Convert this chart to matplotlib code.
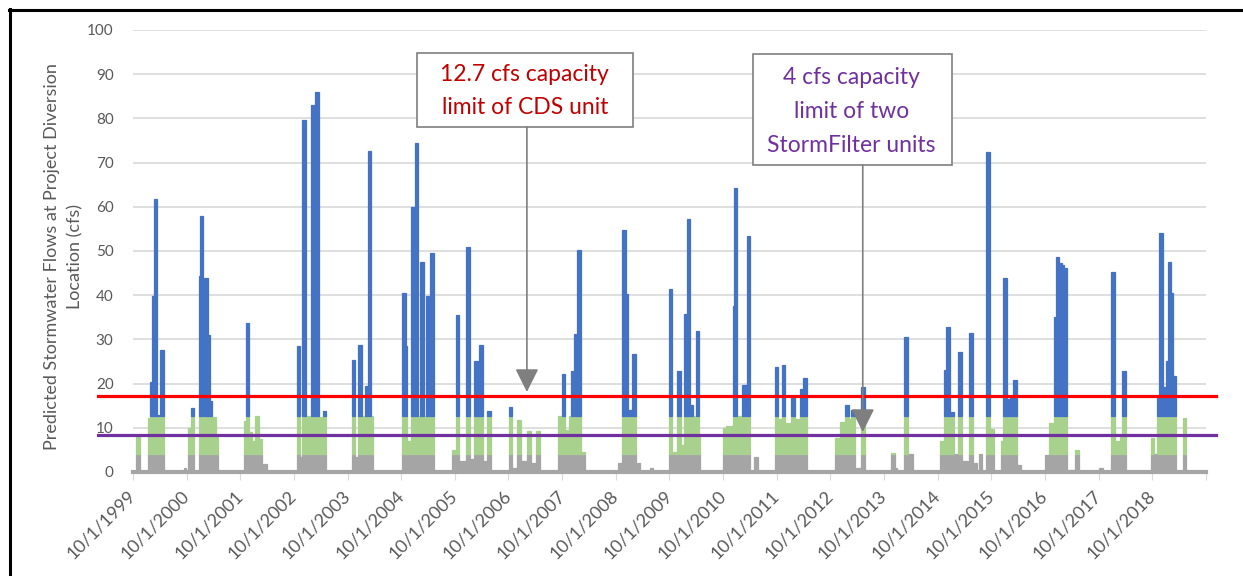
import numpy as np
import pandas as pd
import matplotlib
matplotlib.use("Agg")
import matplotlib.pyplot as plt
from matplotlib.lines import Line2D
from matplotlib.patches import Rectangle

plt.rcParams['font.family'] = ['Lato', 'DejaVu Sans']

# flow events: water year (starts 10/1), start day in that year, length in days, flow (cfs)
wy_1999 = [(23, 23, 8.4), (100, 18, 12.1), (118, 14, 20.4), (132, 9, 39.7), (141, 23, 61.8), (163, 14, 13.0),
           (182, 27, 27.6), (345, 14, 0.8)]
wy_2000 = [(11, 18, 9.9), (29, 18, 14.4), (84, 9, 44.3), (93, 18, 58.0), (120, 23, 43.8), (143, 18, 31.0),
           (161, 14, 16.0), (175, 27, 12.4), (202, 9, 8.0)]
wy_2001 = [(27, 14, 11.5), (41, 18, 33.8), (59, 23, 9.0), (82, 18, 6.9), (100, 27, 12.6), (127, 18, 7.4),
           (145, 36, 1.7)]
wy_2002 = [(24, 20, 28.5), (44, 14, 3.5), (58, 24, 79.6), (82, 34, 12.6), (119, 24, 83.0), (146, 24, 86.0),
           (170, 25, 12.5), (195, 22, 13.8)]
wy_2003 = [(27, 27, 25.3), (54, 18, 3.3), (73, 27, 28.7), (100, 18, 12.6), (118, 18, 19.5), (136, 27, 72.6),
           (163, 9, 12.6)]
wy_2004 = [(7, 25, 40.6), (32, 9, 28.4), (41, 27, 7.0), (68, 23, 60.0), (91, 23, 74.4), (113, 14, 12.6),
           (127, 27, 47.4), (154, 14, 12.6), (168, 23, 39.8), (195, 27, 49.5), (345, 20, 5.0)]
wy_2005 = [(7, 23, 35.4), (30, 45, 2.5), (75, 27, 51.0), (102, 30, 3.0), (132, 32, 25.2), (163, 27, 28.7),
           (190, 32, 2.5), (222, 23, 13.7)]
wy_2006 = [(2, 23, 14.8), (25, 30, 0.8), (59, 23, 11.8), (82, 45, 2.5), (127, 27, 9.35), (154, 30, 2.0),
           (188, 25, 9.3), (339, 25, 12.6), (363, 25, 22.2)]
wy_2007 = [(23, 27, 9.5), (50, 14, 12.6), (64, 18, 22.9), (82, 18, 31.2), (100, 27, 50.2), (127, 30, 4.5)]
wy_2008 = [(16, 25, 2.0), (41, 27, 54.75), (68, 18, 40.3), (86, 27, 14.0), (113, 27, 26.8), (141, 23, 2.0),
           (231, 23, 1.0)]
wy_2009 = [(0, 20, 41.3), (25, 27, 4.5), (52, 27, 22.9), (79, 18, 6.0), (98, 23, 35.7), (120, 23, 57.2),
           (143, 18, 15.2), (161, 18, 12.6), (179, 23, 32.0), (202, 9, 8.0)]
wy_2010 = [(0, 23, 9.9), (23, 45, 10.3), (68, 9, 37.5), (77, 18, 64.3), (95, 34, 12.6), (129, 34, 19.7),
           (163, 23, 53.4), (213, 23, 3.5), (354, 23, 23.8)]
wy_2011 = [(11, 25, 12.0), (36, 23, 24.2), (59, 32, 11.0), (95, 27, 16.7), (122, 36, 12.0), (159, 23, 18.7),
           (181, 23, 21.2)]
wy_2012 = [(29, 39, 7.6), (68, 30, 11.4), (98, 27, 15.2), (125, 18, 12.0), (143, 23, 14.0), (172, 34, 1.0),
           (207, 27, 19.3)]
wy_2013 = [(45, 27, 4.2), (73, 18, 1.0), (136, 27, 30.6), (163, 32, 4.0)]
wy_2014 = [(18, 27, 6.9), (45, 14, 23.0), (59, 27, 32.9), (86, 27, 13.6), (113, 23, 4.0), (136, 27, 27.2),
           (163, 41, 2.5), (213, 27, 31.5), (245, 23, 2.0), (279, 25, 4.0), (333, 27, 72.5), (360, 23, 9.65)]
wy_2015 = [(64, 23, 6.9), (82, 23, 43.8), (104, 23, 16.4), (127, 23, 17.0), (150, 27, 20.7), (177, 23, 1.5)]
wy_2016 = [(0, 30, 3.85), (30, 32, 11.0), (61, 14, 35.0), (75, 18, 48.7), (93, 23, 47.2), (116, 14, 46.8),
           (129, 23, 46.1), (152, 52, 0.5), (206, 23, 5.0)]
wy_2017 = [(2, 27, 1.0), (86, 23, 45.3), (109, 34, 6.9), (143, 18, 8.0), (161, 23, 22.9), (356, 25, 7.6)]
wy_2018 = [(16, 18, 4.0), (34, 14, 17.0), (48, 27, 54.0), (75, 18, 19.3), (93, 14, 25.0), (107, 23, 47.5),
           (129, 14, 40.6), (143, 23, 21.7), (211, 23, 12.1)]

water_years = {1999: wy_1999, 2000: wy_2000, 2001: wy_2001, 2002: wy_2002, 2003: wy_2003, 2004: wy_2004,
               2005: wy_2005, 2006: wy_2006, 2007: wy_2007, 2008: wy_2008, 2009: wy_2009, 2010: wy_2010,
               2011: wy_2011, 2012: wy_2012, 2013: wy_2013, 2014: wy_2014, 2015: wy_2015, 2016: wy_2016,
               2017: wy_2017, 2018: wy_2018}

storm_filter_cap = 4.0   # gray part
cds_cap = 12.7           # green part up to here, blue above
red_line_level = 17.1    # drawn annotation lines
purple_line_level = 8.45

tick_years = list(range(1999, 2020))
tick_labels = ["10/1/%d" % y for y in range(1999, 2019)] + [""]

# build the series
rows = []
for wy, events in water_years.items():
    for day, ndays, q in events:
        rows.append((pd.Timestamp("%d-10-01" % wy) + pd.Timedelta(days=day), ndays, q))
df = pd.DataFrame(rows, columns=["start", "days", "flow"])
df["x"] = matplotlib.dates.date2num(df.start)
df["gray"] = np.minimum(df.flow, storm_filter_cap)
df["green"] = np.clip(df.flow, storm_filter_cap, cds_cap) - storm_filter_cap
df["blue"] = np.maximum(df.flow - cds_cap, 0)

fig = plt.figure(figsize=(12.43, 5.76), dpi=100)
ax = fig.add_axes([0.107, 0.1806, 0.863, 0.7674])


def stack_layer(col, bottom, color):
    part = df[df[col] > 0]
    ax.bar(part.x, part[col], width=part.days, bottom=bottom[df[col] > 0], align="edge",
           color=color, edgecolor=color, linewidth=0.9, zorder=3)


zero = pd.Series(0.0, index=df.index)
stack_layer("gray", zero, "#A5A5A5")
stack_layer("green", df.gray, "#A9D18E")
stack_layer("blue", df.gray + df.green, "#4472C4")

ax.set_ylim(0, 100)
ax.set_yticks(range(0, 101, 10))
ax.set_xlim(matplotlib.dates.date2num(pd.Timestamp("1999-10-01")),
            matplotlib.dates.date2num(pd.Timestamp("2019-10-01")))
ax.set_xticks([matplotlib.dates.date2num(pd.Timestamp("%d-10-01" % y)) for y in tick_years])
ax.set_xticklabels(tick_labels, rotation=45, ha="right", va="center", rotation_mode="anchor",
                   fontsize=13, color="#595959")
ax.tick_params(axis="x", length=6, color="#D9D9D9", pad=9)
ax.tick_params(axis="y", length=0, labelsize=11, labelcolor="#595959", pad=14)
ax.grid(axis="y", color="#D9D9D9", lw=1.2, zorder=0)
for s in ["left", "right", "top"]:
    ax.spines[s].set_visible(False)
ax.spines["bottom"].set_color("#A5A5A5")
ax.spines["bottom"].set_linewidth(3)
ax.spines["bottom"].set_zorder(4)

ax.set_ylabel("Predicted Stormwater Flows at Project Diversion\nLocation (cfs)",
              fontsize=13, color="#595959", linespacing=1.6)
ax.yaxis.set_label_coords(-0.046, 0.487)

# capacity lines drawn across the plot
trans = matplotlib.transforms.blended_transform_factory(ax.transAxes, ax.transData)
ax.add_line(Line2D([-0.033, 1.01], [red_line_level, red_line_level], transform=trans, color="#FF0000",
                   lw=2.3, clip_on=False, zorder=6))
ax.add_line(Line2D([-0.033, 1.01], [purple_line_level, purple_line_level], transform=trans, color="#7030A0",
                   lw=2.3, clip_on=False, zorder=6))

# callout boxes
ax.add_patch(Rectangle((0.2647, 0.7805), 0.2013, 0.1675, transform=ax.transAxes, fc="white",
                       ec="#7F7F7F", lw=1.2, zorder=7, clip_on=False))
ax.text(0.3653, 0.862, "12.7 cfs capacity\nlimit of CDS unit", transform=ax.transAxes, ha="center",
        va="center", fontsize=16.5, color="#C00000", linespacing=1.72, zorder=8)
ax.add_patch(Rectangle((0.5778, 0.6946), 0.1855, 0.2511, transform=ax.transAxes, fc="white",
                       ec="#7F7F7F", lw=1.2, zorder=7, clip_on=False))
ax.text(0.670, 0.815, "4 cfs capacity\nlimit of two\nStormFilter units", transform=ax.transAxes,
        ha="center", va="center", fontsize=16.5, color="#7030A0", linespacing=1.78, zorder=8)

arrow = dict(arrowstyle="-|>,head_length=0.9,head_width=0.45", color="#7F7F7F", lw=1.2,
             mutation_scale=16, shrinkA=0, shrinkB=0)
ax.annotate("", xy=(0.3672, 0.181), xytext=(0.3672, 0.7805), xycoords="axes fraction",
            arrowprops=arrow, zorder=8)
ax.annotate("", xy=(0.6803, 0.0905), xytext=(0.6803, 0.6946), xycoords="axes fraction",
            arrowprops=arrow, zorder=8)

# outer frame
fig.add_artist(Line2D([9.5 / 1243, 9.5 / 1243], [0, 1 - 9 / 576], color="black", lw=2.2,
                      transform=fig.transFigure))
fig.add_artist(Line2D([8.5 / 1243, 1], [1 - 9.5 / 576, 1 - 9.5 / 576], color="black", lw=2.2,
                      transform=fig.transFigure))

fig.savefig("out.png", dpi=100)
